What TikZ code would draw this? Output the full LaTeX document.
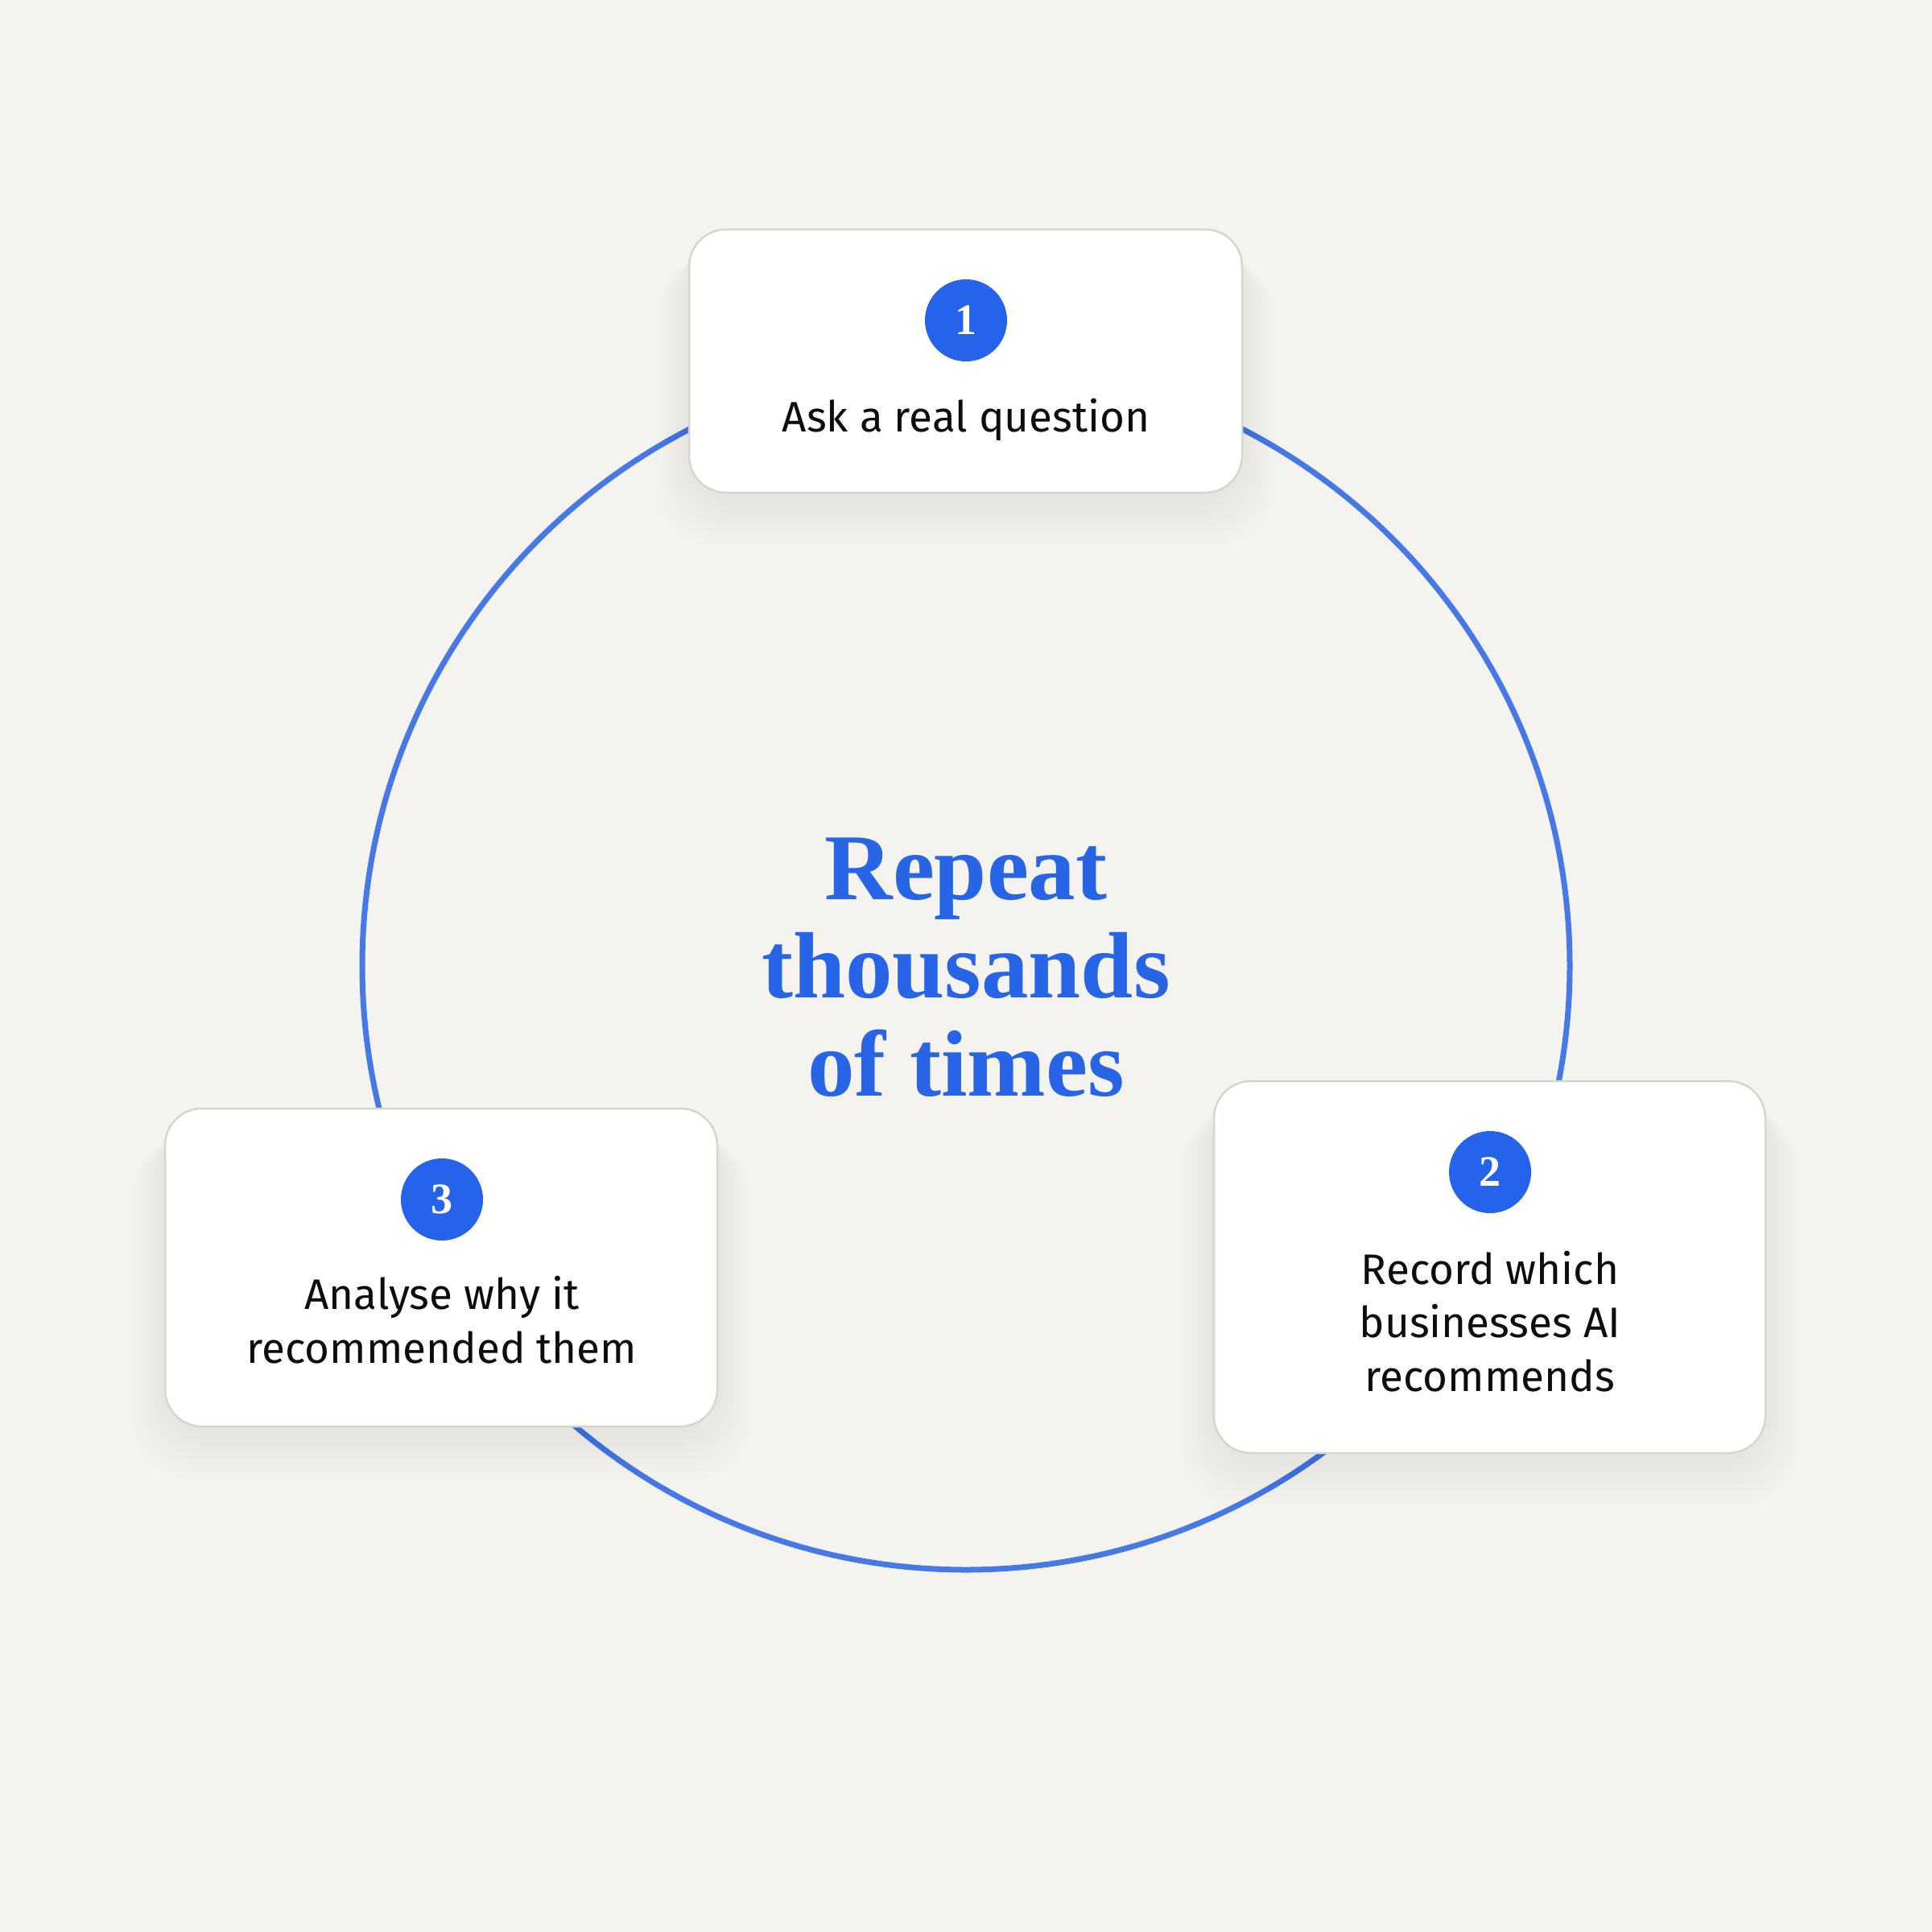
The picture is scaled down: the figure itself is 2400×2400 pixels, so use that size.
\documentclass[tikz,border=0pt]{standalone}
\usepackage{fontspec}
\setmainfont{Fira Sans}
\newfontfamily\titlefont{Liberation Serif}
\definecolor{bgc}{HTML}{F4F3F0}
\definecolor{ringc}{HTML}{4679E6}
\definecolor{badgec}{HTML}{2563EB}
\definecolor{titlec}{HTML}{2864E6}
\definecolor{cardline}{HTML}{D8D5CF}
\definecolor{inkc}{HTML}{0D0D0D}
\newcommand\cardshadow[4]{%
  \foreach \k in {1,...,14}{%
    \fill[black,opacity=0.0042,rounded corners=70pt]
      ({#1-3*\k},{#2+10+2*\k}) rectangle ({#3+3*\k},{#4+10+4*\k});
  }%
}
\tikzset{
  card/.style={draw=cardline, line width=2.5pt, fill=white, rounded corners=46pt, inner sep=0pt},
  badge/.style={circle, fill=badgec, minimum size=102pt, inner sep=0pt, text=white,
    font=\titlefont\bfseries\fontsize{54}{54}\selectfont},
  steptext/.style={anchor=base, align=center, text=inkc, inner sep=0pt,
    font=\fontsize{53}{66.5}\selectfont},
  titletext/.style={anchor=base, align=center, text=titlec, inner sep=0pt,
    font=\titlefont\bfseries\fontsize{117}{122}\selectfont},
  ring/.style={draw=ringc, line width=7pt}
}
\begin{document}
\begin{tikzpicture}[x=1pt,y=-1pt]
\fill[bgc] (0,0) rectangle (2400,2400);
\useasboundingbox (0,0) rectangle (2400,2400);
\coordinate (ctr) at (1200,1200);
\draw[ring] (ctr) circle[radius=750];
\cardshadow{856}{285}{1543}{612}
\cardshadow{1508}{1343}{2193}{1805}
\cardshadow{205}{1377}{891}{1772}
\node[card, minimum width=687pt, minimum height=327pt] (c1) at (1199.5,448.5) {};
\node[card, minimum width=685pt, minimum height=462pt] (c2) at (1850.5,1574) {};
\node[card, minimum width=686pt, minimum height=395pt] (c3) at (548,1574.5) {};
\node[badge] (b1) at (1200,398) {1};
\node[badge] (b2) at (1851,1456) {2};
\node[badge] (b3) at (549,1490) {3};
\node[steptext] (t1) at (1200,536) {Ask a real question};
\node[steptext] (t2) at (1851,1728) {Record which\\businesses AI\\recommends};
\node[steptext] (t3) at (549,1693) {Analyse why it\\recommended them};
\node[titletext] (title) at (1200,1361) {Repeat\\thousands\\of times};
\end{tikzpicture}
\end{document}
